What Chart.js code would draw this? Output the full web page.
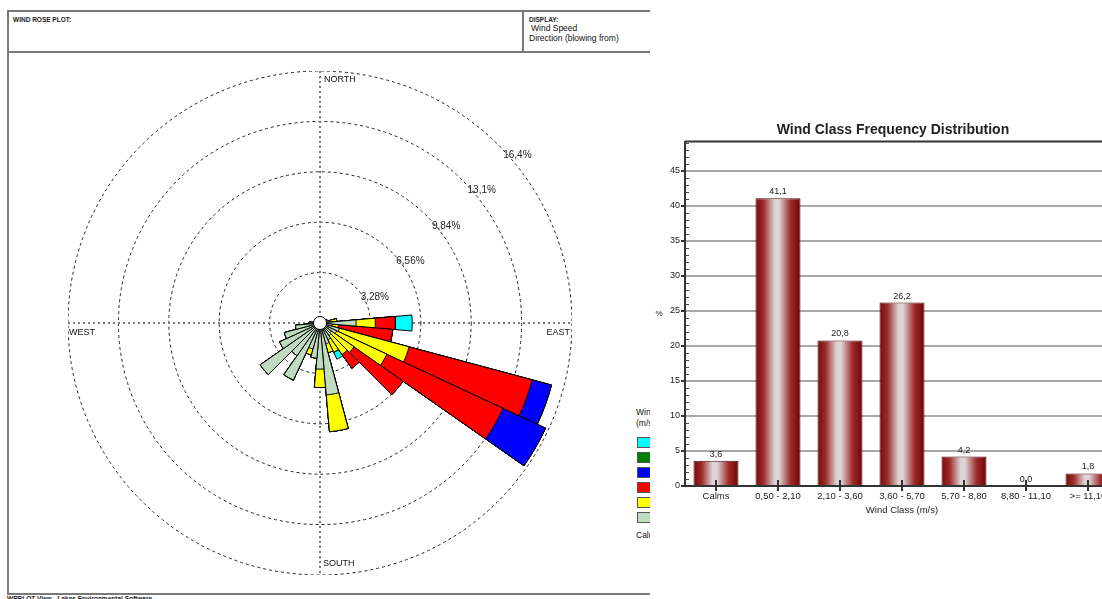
<!DOCTYPE html>
<html>
<head>
<meta charset="utf-8">
<title>Wind Rose</title>
<script src="https://cdn.jsdelivr.net/npm/chart.js@4.4.1/dist/chart.umd.min.js"></script>
<style>
  html, body { margin: 0; padding: 0; }
  body {
    width: 1102px; height: 599px; overflow: hidden; position: relative;
    background: #fff; color: #111;
    font-family: "Liberation Sans", Arial, sans-serif;
  }
  #rosePanel { position: absolute; left: 0; top: 0; width: 650px; height: 599px; overflow: hidden; }
  .frame { position: absolute; left: 7px; top: 10px; width: 760px; height: 585px;
           border: 2px solid #7a7a7a; box-sizing: border-box; }
  .hline { position: absolute; left: 7px; top: 51px; width: 760px; height: 2px; background: #7a7a7a; }
  .vline { position: absolute; left: 522px; top: 10px; width: 2px; height: 42px; background: #7a7a7a; }
  .tiny { position: absolute; font-size: 6.5px; font-weight: bold; white-space: nowrap; color: #222; }
  .small { position: absolute; font-size: 8.5px; white-space: nowrap; color: #111; }
  #roseCanvas { position: absolute; left: 68px; top: 71px; }
  .swatch { position: absolute; left: 637px; width: 18px; height: 9px; border: 1px solid #555; }
  #barCanvas { position: absolute; left: 652px; top: 110px; }
</style>
</head>
<body>
<div id="rosePanel">
  <div class="frame"></div>
  <div class="hline"></div>
  <div class="vline"></div>
  <div class="tiny" style="left:13px; top:16px;">WIND ROSE PLOT:</div>
  <div class="tiny" style="left:529px; top:16px;">DISPLAY:</div>
  <div class="small" style="left:531px; top:23px;">Wind Speed</div>
  <div class="small" style="left:529px; top:33px;">Direction (blowing from)</div>
  <canvas id="roseCanvas" width="504" height="504"></canvas>
  <div id="roseLegend"></div>
  <div class="tiny" style="left:7px; top:595px;">WRPLOT View - Lakes Environmental Software</div>
</div>
<canvas id="barCanvas" width="482" height="408"></canvas>

<script>
// ---- Wind rose data: frequency (%) per 10-degree sector, one array per speed class ----
const DIRECTIONS = ['0', '10', '20', '30', '40', '50', '60', '70', '80', '90', '100', '110',
                    '120', '130', '140', '150', '160', '170', '180', '190', '200', '210', '220', '230',
                    '240', '250', '260', '270', '280', '290', '300', '310', '320', '330', '340', '350'];

const SPEED_050_210 = [0.35, 0.35, 0.35, 0.35, 0.35, 0.35, 0.40, 0.50, 0.60, 2.35, 0.80, 1.30,
                       1.20, 0.90, 1.00, 1.20, 1.40, 4.70, 3.00, 2.30, 1.75, 4.10, 2.60, 4.75,
                       2.90, 2.40, 1.60, 0.70, 0.40, 0.35, 0.35, 0.35, 0.35, 0.35, 0.35, 0.35];
const SPEED_210_360 = [0, 0, 0, 0, 0, 0, 0, 0, 0.50, 1.25, 0.40, 4.70,
                       3.60, 1.80, 1.50, 0.90, 0.60, 2.40, 1.20, 0, 0.40, 0, 0, 0,
                       0, 0, 0, 0, 0, 0, 0, 0, 0, 0, 0, 0];
const SPEED_360_570 = [0, 0, 0, 0, 0, 0, 0, 0, 0, 1.30, 3.55, 8.30,
                       8.35, 3.90, 1.10, 0, 0, 0, 0, 0, 0, 0, 0, 0,
                       0, 0, 0, 0, 0, 0, 0, 0, 0, 0, 0, 0];
const SPEED_570_880 = [0, 0, 0, 0, 0, 0, 0, 0, 0, 0, 0, 1.30,
                       3.05, 0, 0, 0, 0, 0, 0, 0, 0, 0, 0, 0,
                       0, 0, 0, 0, 0, 0, 0, 0, 0, 0, 0, 0];
const SPEED_880_1110 = [0, 0, 0, 0, 0, 0, 0, 0, 0, 0, 0, 0,
                        0, 0, 0, 0, 0, 0, 0, 0, 0, 0, 0, 0,
                        0, 0, 0, 0, 0, 0, 0, 0, 0, 0, 0, 0];
const SPEED_1110_UP = [0, 0, 0, 0, 0, 0, 0, 0, 0, 1.10, 0, 0,
                       0, 0, 0, 0.50, 0, 0, 0, 0, 0, 0, 0, 0,
                       0, 0, 0, 0, 0, 0, 0, 0, 0, 0, 0, 0];

const SPEED_LABELS = ['0,50 - 2,10', '2,10 - 3,60', '3,60 - 5,70', '5,70 - 8,80', '8,80 - 11,10', '>= 11,10'];
const SPEED_COLORS = ['#c0dcc0', '#ffff00', '#ff0000', '#0000ff', '#008000', '#00ffff'];
const CALMS_LABEL = 'Calms: 3,60%';

// Radial rings and their captions
const RING_VALUES = [0, 3.28, 6.56, 9.84, 13.12, 16.4];
const RING_LABELS = ['3,28%', '6,56%', '9,84%', '13,1%', '16,4%'];
const RING_MAX = 16.4;

// ---- Class frequency bar chart data ----
const WIND_CLASSES = ['Calms', '0,50 - 2,10', '2,10 - 3,60', '3,60 - 5,70', '5,70 - 8,80', '8,80 - 11,10', '>= 11,10'];
const CLASS_FREQ = [3.6, 41.1, 20.8, 26.2, 4.2, 0.0, 1.8];
const FREQ_TICKS = [0, 5, 10, 15, 20, 25, 30, 35, 40, 45];
const FREQ_MAX = 49.2;
const BAR_TITLE = 'Wind Class Frequency Distribution';

const FONT = '"Liberation Sans", Arial, sans-serif';
Chart.defaults.font.family = FONT;

// ---------------- Wind rose ----------------
// Each class is drawn as a polar dataset holding the running total, so the
// smaller (inner) totals are painted over the larger ones like stacked wedges.
const speedSeries = [SPEED_050_210, SPEED_210_360, SPEED_360_570, SPEED_570_880, SPEED_880_1110, SPEED_1110_UP];
let running = DIRECTIONS.map(() => 0);
const roseDatasets = speedSeries.map((series, k) => {
  running = running.map((v, i) => v + series[i]);
  return {
    label: SPEED_LABELS[k],
    data: running.slice(),
    backgroundColor: SPEED_COLORS[k],
    borderColor: '#000',
    borderWidth: 1
  };
});

const roseDecor = {
  id: 'roseDecor',
  beforeDatasetsDraw(chart) {
    const s = chart.scales.r, ctx = chart.ctx;
    const cx = s.xCenter, cy = s.yCenter, R = s.drawingArea;
    ctx.save();
    ctx.strokeStyle = '#7a7a7a';
    ctx.lineWidth = 2;
    ctx.setLineDash([2, 3]);
    ctx.beginPath();
    ctx.moveTo(cx, cy - R); ctx.lineTo(cx, cy + R);
    ctx.moveTo(cx - R, cy); ctx.lineTo(cx + R, cy);
    ctx.stroke();
    ctx.restore();
  },
  afterDatasetsDraw(chart) {
    const s = chart.scales.r, ctx = chart.ctx;
    const cx = s.xCenter, cy = s.yCenter, R = s.drawingArea;
    ctx.save();
    // calm circle
    ctx.beginPath();
    ctx.arc(cx, cy, 6.5, 0, Math.PI * 2);
    ctx.fillStyle = '#fff';
    ctx.fill();
    ctx.lineWidth = 1;
    ctx.strokeStyle = '#000';
    ctx.stroke();

    // ring captions along the north-east diagonal
    ctx.fillStyle = '#222';
    ctx.font = '10px ' + FONT;
    ctx.textAlign = 'left';
    ctx.textBaseline = 'middle';
    RING_VALUES.slice(1).forEach((v, i) => {
      const d = s.getDistanceFromCenterForValue(v) * Math.SQRT1_2;
      ctx.fillText(RING_LABELS[i], cx + d + 5, cy - d + 10);
    });

    // compass points
    ctx.font = '9px ' + FONT;
    ctx.fillStyle = '#111';
    ctx.fillText('NORTH', cx + 4, cy - R + 9);
    ctx.fillText('SOUTH', cx + 3, cy + R - 11);
    ctx.fillText('WEST', cx - R + 1, cy + 10);
    ctx.textAlign = 'right';
    ctx.fillText('EAST', cx + R - 2, cy + 10);
    ctx.restore();
  }
};

new Chart(document.getElementById('roseCanvas'), {
  type: 'polarArea',
  data: { labels: DIRECTIONS, datasets: roseDatasets },
  options: {
    responsive: false,
    animation: false,
    events: [],
    layout: { padding: 0 },
    plugins: { legend: { display: false }, tooltip: { enabled: false } },
    scales: {
      r: {
        min: 0,
        max: RING_MAX,
        startAngle: -5,
        afterBuildTicks: (scale) => { scale.ticks = RING_VALUES.map(v => ({ value: v })); },
        ticks: { display: false },
        grid: { circular: true, color: '#222', lineWidth: 1 },
        border: { dash: [3, 3] },
        angleLines: { display: false },
        pointLabels: { display: false }
      }
    }
  },
  plugins: [roseDecor]
});

// Legend for the speed classes (top row is the strongest class)
(function buildLegend() {
  const host = document.getElementById('roseLegend');
  const add = (html) => host.insertAdjacentHTML('beforeend', html);
  add('<div class="small" style="left:636px; top:407px;">Wind Speed</div>');
  add('<div class="small" style="left:636px; top:418px;">(m/s)</div>');
  const order = SPEED_LABELS.map((_, i) => i).reverse();
  order.forEach((k, row) => {
    const top = 437 + row * 15;
    add('<div class="swatch" style="top:' + top + 'px; background:' + SPEED_COLORS[k] + ';"></div>');
    add('<div class="small" style="left:660px; top:' + (top) + 'px;">' + SPEED_LABELS[k].replace('>', '&gt;') + '</div>');
  });
  add('<div class="small" style="left:636px; top:530px;">' + CALMS_LABEL + '</div>');
})();

// ---------------- Class frequency bars ----------------
const BAR_FRACTION = 0.726;

function barGradient(c) {
  const chart = c.chart;
  const xs = chart.scales.x;
  if (!xs || !chart.chartArea) return '#8b1010';
  const center = xs.getPixelForValue(c.dataIndex);
  const half = xs.width / WIND_CLASSES.length * BAR_FRACTION / 2;
  const g = chart.ctx.createLinearGradient(center - half, 0, center + half, 0);
  g.addColorStop(0.00, '#7a0808');
  g.addColorStop(0.18, '#9c2b2b');
  g.addColorStop(0.42, '#dcd2d2');
  g.addColorStop(0.52, '#ddd7d7');
  g.addColorStop(0.78, '#9e2a2a');
  g.addColorStop(1.00, '#6c0404');
  return g;
}

const fmtComma = (v) => v.toFixed(1).replace('.', ',');

const barDecor = {
  id: 'barDecor',
  afterDatasetsDraw(chart) {
    const ctx = chart.ctx, area = chart.chartArea;
    const xs = chart.scales.x, ys = chart.scales.y;
    ctx.save();
    // chart heading, centred on the canvas
    ctx.fillStyle = '#222';
    ctx.font = 'bold 14px ' + FONT;
    ctx.textAlign = 'center';
    ctx.textBaseline = 'middle';
    ctx.fillText(BAR_TITLE, chart.width / 2, 20);

    // plot frame top edge
    ctx.strokeStyle = '#333';
    ctx.lineWidth = 2;
    ctx.beginPath();
    ctx.moveTo(area.left, area.top);
    ctx.lineTo(area.right, area.top);
    ctx.stroke();

    // minor ticks on the value axis
    ctx.lineWidth = 1;
    ctx.strokeStyle = '#444';
    ctx.beginPath();
    for (let v = 1; v < FREQ_MAX; v++) {
      if (v % 5 === 0) continue;
      const y = Math.round(ys.getPixelForValue(v)) + 0.5;
      ctx.moveTo(area.left, y);
      ctx.lineTo(area.left + 4, y);
    }
    ctx.stroke();

    // category tick marks crossing the baseline
    ctx.lineWidth = 2;
    ctx.strokeStyle = '#333';
    ctx.beginPath();
    WIND_CLASSES.forEach((_, i) => {
      const x = Math.round(xs.getPixelForValue(i));
      ctx.moveTo(x, area.bottom - 6);
      ctx.lineTo(x, area.bottom + 5);
    });
    ctx.stroke();

    // value captions
    ctx.fillStyle = '#222';
    ctx.font = '9px ' + FONT;
    ctx.textAlign = 'center';
    ctx.textBaseline = 'middle';
    chart.getDatasetMeta(0).data.forEach((bar, i) => {
      ctx.fillText(fmtComma(CLASS_FREQ[i]), bar.x, bar.y - 6.5);
    });

    // unit caption of the value axis
    ctx.font = '8px ' + FONT;
    ctx.fillText('%', area.left - 26, (area.top + area.bottom) / 2);
    ctx.restore();
  }
};

new Chart(document.getElementById('barCanvas'), {
  type: 'bar',
  data: {
    labels: WIND_CLASSES,
    datasets: [{
      data: CLASS_FREQ,
      backgroundColor: barGradient,
      borderColor: '#4a0a0a',
      borderWidth: 1,
      categoryPercentage: 1,
      barPercentage: BAR_FRACTION
    }]
  },
  options: {
    responsive: false,
    animation: false,
    events: [],
    layout: { padding: { left: 0, right: 15, top: 31.6, bottom: 0 } },
    plugins: {
      legend: { display: false },
      tooltip: { enabled: false },
      title: { display: false }
    },
    scales: {
      x: {
        grid: { display: false, drawTicks: false },
        border: { display: true, color: '#333', width: 2 },
        ticks: { color: '#222', font: { size: 9.5 }, padding: 5, maxRotation: 0, autoSkip: false },
        title: { display: true, text: 'Wind Class (m/s)', color: '#222', font: { size: 9.5 }, padding: { top: 0, bottom: 2 } },
        afterFit: (scale) => { scale.height = 32; }
      },
      y: {
        min: 0,
        max: FREQ_MAX,
        afterBuildTicks: (scale) => { scale.ticks = FREQ_TICKS.map(v => ({ value: v })); },
        grid: {
          color: (c) => (c.tick && c.tick.value === 0 ? '#333' : '#a8a8a8'),
          lineWidth: 2,
          tickColor: '#333',
          tickLength: 4
        },
        border: { display: true, color: '#333', width: 2 },
        ticks: { color: '#222', font: { size: 9 }, padding: 1 },
        afterFit: (scale) => { scale.width = 33; }
      }
    }
  },
  plugins: [barDecor]
});
</script>
</body>
</html>
